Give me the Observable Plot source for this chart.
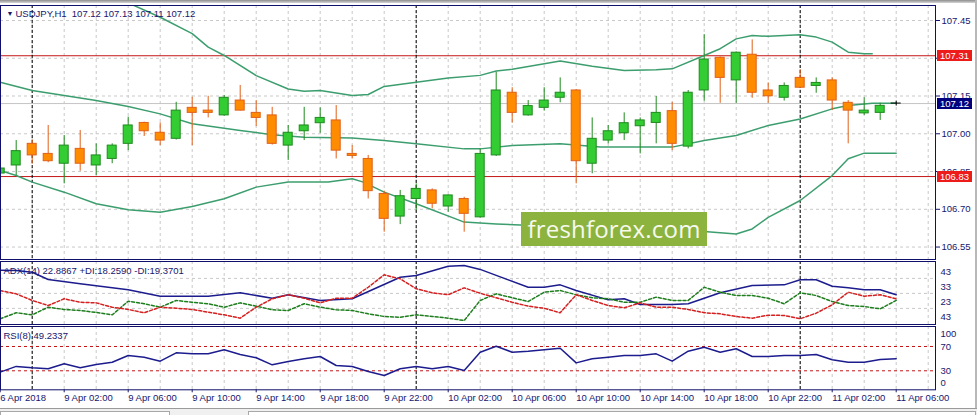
<!DOCTYPE html>
<html>
<head>
<meta charset="utf-8">
<script src="https://cdn.jsdelivr.net/npm/d3@7"></script>
<script src="https://cdn.jsdelivr.net/npm/@observablehq/plot@0.6"></script>
<style>
html, body { margin: 0; padding: 0; background: #fff; }
#wrap { position: relative; width: 977px; height: 415px; overflow: hidden; background: #fff;
  font-family: "Liberation Sans", Arial, sans-serif; }
#wrap svg { position: absolute; left: 0; }
.tag { position: absolute; left: 937px; width: 35px; height: 11px; line-height: 11px;
  font-size: 9.5px; color: #fff; text-align: center; }
</style>
</head>
<body>
<div id="wrap"></div>
<script>
// hour index: 0 = 9 Apr 00:00, one candle per hour
const hours = d3.range(-2, 55);
const open  = [106.842,106.874,106.960,106.920,106.881,106.940,106.874,106.900,106.960,107.043,107.004,106.980,107.103,107.092,107.073,107.132,107.083,107.073,106.953,107.010,107.042,107.053,106.920,106.900,106.761,106.671,106.741,106.775,106.711,106.741,106.668,106.914,107.163,107.073,107.103,107.143,107.172,106.881,106.973,107.002,107.030,107.043,107.090,106.949,107.172,107.302,107.212,107.314,107.172,107.143,107.222,107.190,107.212,107.123,107.081,107.083,107.120];
const high  = [106.870,106.973,106.975,107.033,106.993,107.013,106.960,106.960,107.066,107.046,107.043,107.125,107.145,107.149,107.152,107.192,107.132,107.105,107.033,107.105,107.103,107.112,106.953,106.914,106.772,106.775,106.801,106.781,106.757,106.748,106.940,107.245,107.183,107.132,107.183,107.222,107.175,107.063,107.033,107.083,107.063,107.148,107.125,107.172,107.394,107.305,107.325,107.373,107.202,107.202,107.255,107.222,107.222,107.132,107.143,107.121,107.130];
const low   = [106.830,106.834,106.880,106.885,106.801,106.851,106.834,106.881,106.933,106.989,106.953,106.975,106.953,107.063,107.070,107.090,107.029,106.955,106.894,106.973,107.002,106.900,106.900,106.741,106.609,106.639,106.695,106.702,106.688,106.609,106.665,106.910,107.042,107.070,107.090,107.123,106.801,106.841,106.960,106.973,106.920,106.960,106.933,106.940,107.129,107.121,107.121,107.141,107.121,107.130,107.180,107.161,107.092,106.960,107.073,107.053,107.110];
const close = [106.862,106.931,106.914,106.891,106.953,106.881,106.914,106.953,107.033,107.010,106.973,107.092,107.083,107.083,107.143,107.092,107.063,106.960,107.004,107.033,107.063,106.933,106.912,106.772,106.662,106.752,106.781,106.722,106.755,106.682,106.920,107.172,107.083,107.110,107.132,107.163,106.891,106.980,107.010,107.042,107.053,107.083,106.960,107.163,107.295,107.222,107.322,107.163,107.149,107.190,107.183,107.202,107.132,107.092,107.092,107.111,107.120];

// Bollinger bands
const upperHours = [4,6,8,10,11,12,14,16,17,18,20,21,22,24,26,28,29,30,33,35,37,39,40,42,43,44,45,46,48,49,50,51,52,52.5];
const upperBand  = [107.57,107.52,107.463,107.398,107.344,107.311,107.231,107.178,107.169,107.172,107.152,107.156,107.188,107.205,107.222,107.232,107.249,107.256,107.289,107.268,107.251,107.254,107.258,107.311,107.338,107.377,107.390,107.387,107.393,107.384,107.364,107.324,107.318,107.318];
const midHours = [-2,0,2,4,6,8,10,13,15,17,20,22,24,27,28,30,33,35.5,40,42,44,46,48,50,51,52.5,54];
const midBand  = [107.205,107.172,107.152,107.132,107.108,107.079,107.040,107.013,106.996,106.986,106.983,106.973,106.960,106.940,106.940,106.953,106.960,106.947,106.947,106.973,106.993,107.033,107.059,107.099,107.112,107.121,107.121];
const lowHours = [-2,-1,0,2,4,6,8,10,12,14,16,18.5,20,20.7,22,24,27,29,30.5,34,38,42,44,45,46,48,50,51,52,54];
const lowBand  = [106.854,106.834,106.808,106.768,106.722,106.698,106.688,106.711,106.742,106.788,106.808,106.808,106.821,106.808,106.768,106.722,106.649,106.642,106.638,106.632,106.628,106.612,106.602,106.622,106.668,106.735,106.834,106.901,106.923,106.923];

const priceTicks = [107.45, 107.30, 107.15, 107.00, 106.85, 106.70, 106.55];
const priceLevels = [107.31, 106.83];
const currentPrice = 107.12;

// ADX(14)
const adxHours = [-2,-1,0,1,3,6,8,11,13,15,16,18,20,23,24,26,27,28,29,31,32,33,34,36,37,38,40,41,43,45,47,48,49,50,51,52,53,54];
const adxLine  = [38.5,38.2,37.1,32.3,29.4,25.4,21.1,21.1,23.4,19.8,22.1,18.3,19.4,33.8,34.9,41.1,41.6,39.0,35.0,27.1,27.1,28.7,24.9,18.7,19.4,15.6,15.6,16.1,23.4,28.3,28.7,32.1,32.1,27.8,26.7,25.4,25.4,22.1];
const plusDI  = [6.1,10.1,8.7,13.8,12.3,11.6,10.3,8.7,17.8,16.1,13.8,18.3,17.1,16.1,13.8,16.7,14.5,12.1,11.6,16.1,13.8,12.1,11.6,9.4,7.6,7.1,8.7,7.6,6.5,4.9,18.3,22.7,20.1,17.6,23.8,24.9,22.1,20.1,19.4,17.1,17.1,20.5,18.3,18.3,27.1,23.8,21.6,21.6,19.8,16.1,23.4,21.6,17.6,14.9,14.3,12.7,18.3];
const minusDI = [24.9,22.7,18.3,14.9,19.4,17.1,16.7,13.8,12.3,10.1,13.8,13.1,12.3,10.5,8.7,6.5,13.8,19.4,22.1,19.8,16.7,19.8,19.8,27.1,35.4,32.7,26.1,23.4,22.1,26.7,23.1,20.1,17.1,14.5,13.1,10.1,22.1,18.3,14.9,13.4,16.7,13.8,13.8,12.3,10.1,9.4,7.6,6.5,8.5,8.3,6.1,9.8,15.4,23.8,21.1,22.1,19.4];
const adxTicks = [43, 33, 23, 13];
const adxTickLabels = ["43", "33", "23", "43"];

// RSI(8)
const rsi = [27.8,37.2,35.0,33.4,41.5,35.0,40.5,44.1,55.1,52.4,45.8,59.6,57.9,57.9,64.5,56.8,51.4,39.8,45.3,49.7,53.5,38.7,37.0,28.8,22.2,33.3,37.0,33.3,37.0,30.5,60.6,70.5,60.6,62.2,64.5,67.2,43.0,49.7,52.4,55.1,55.1,57.9,45.8,62.2,68.8,60.6,66.2,53.5,53.5,55.1,55.1,56.8,48.1,44.1,44.1,48.6,49.7];
const rsiLevels = [70, 30];

const daySeps = [0, 24, 48];
const gridHours = d3.range(-2, 57, 2);
const labelHours = [-2,2,6,10,14,18,22,26,30,34,38,42,46,50,54];
const timeLabels = ["6 Apr 2018","9 Apr 02:00","9 Apr 06:00","9 Apr 10:00","9 Apr 14:00","9 Apr 18:00","9 Apr 22:00",
  "10 Apr 02:00","10 Apr 06:00","10 Apr 10:00","10 Apr 14:00","10 Apr 18:00","10 Apr 22:00","11 Apr 02:00","11 Apr 06:00"];

const header = "USDJPY,H1  107.12 107.13 107.11 107.12";
const adxTitle = "ADX(14) 22.8867 +DI:18.2590 -DI:19.3701";
const rsiTitle = "RSI(8) 49.2337";

// ---- build
const NAVY = "#16166e", FRAME = "#10106a", GRID = "#c9c9c9";
const FONT = "'Liberation Sans', Arial, sans-serif";
const xDomain = [-31.7 / 16, (935 - 31.7) / 16];
const pts = (xs, ys) => xs.map((x, i) => ({x, y: ys[i]}));
const bars = hours.map((h, i) => ({h, o: open[i], hi: high[i], lo: low[i], c: close[i]}));
const body = d => d.c > d.o ? "#33cc33" : "#ff8c00";
const edge = d => d.c > d.o ? "#1f8a1f" : d.c < d.o ? "#e0601a" : "#000";
const labelMap = new Map(labelHours.map((h, i) => [h, timeLabels[i]]));
const style = {fontFamily: FONT, fontSize: "9.5px", color: NAVY, background: "transparent", overflow: "visible"};
const common = {width: 977, marginLeft: 0, marginRight: 42, style, x: {domain: xDomain, axis: null}};
const vgrid = () => Plot.ruleX(gridHours, {stroke: GRID, strokeDasharray: "3,3"});
const seps = () => Plot.ruleX(daySeps, {stroke: "#000", strokeDasharray: "3,2"});

const main = Plot.plot({
  ...common, height: 260, marginTop: 5, marginBottom: 1,
  y: {domain: [106.5005, 107.5096], axis: null},
  marks: [
    Plot.ruleY(priceTicks, {stroke: GRID, strokeDasharray: "3,3"}),
    vgrid(),
    Plot.ruleY([currentPrice], {stroke: "#c4c4c4"}),
    Plot.ruleY(priceLevels, {stroke: "#c41818"}),
    seps(),
    Plot.line(pts(upperHours, upperBand), {x: "x", y: "y", stroke: "#3c9e6e", clip: true}),
    Plot.line(pts(midHours, midBand), {x: "x", y: "y", stroke: "#3c9e6e", clip: true}),
    Plot.line(pts(lowHours, lowBand), {x: "x", y: "y", stroke: "#3c9e6e", clip: true}),
    Plot.ruleX(bars, {x: "h", y1: "lo", y2: "hi", stroke: edge}),
    Plot.rect(bars.filter(d => d.c !== d.o), {x1: "h", x2: "h", y1: "o", y2: "c",
      insetLeft: -4.5, insetRight: -4.5, fill: body, stroke: edge}),
    Plot.rect(bars.filter(d => d.c === d.o), {x1: "h", x2: "h", y1: "o", y2: "c",
      insetLeft: -5, insetRight: -5, insetTop: -0.5, insetBottom: -0.5, fill: "#000"}),
    Plot.axisY(priceTicks, {anchor: "right", tickSize: 4, tickPadding: 2, tickFormat: d => d.toFixed(2)}),
    Plot.frame({stroke: FRAME}),
    Plot.text(["▼"], {frameAnchor: "top-left", dx: 6, dy: 8, lineAnchor: "middle", fontSize: 7, fill: NAVY}),
    Plot.text([header], {frameAnchor: "top-left", dx: 15, dy: 8, lineAnchor: "middle", textAnchor: "start", fill: NAVY})
  ]
});

const adx = Plot.plot({
  ...common, height: 67, marginTop: 2, marginBottom: 2,
  y: {domain: [2.267, 44.267], axis: null},
  marks: [
    Plot.ruleY(adxTicks.slice(1), {stroke: GRID, strokeDasharray: "3,3"}),
    vgrid(),
    seps(),
    Plot.line(pts(adxHours, adxLine), {x: "x", y: "y", stroke: "#1c1c8e"}),
    Plot.line(pts(hours, plusDI), {x: "x", y: "y", stroke: "#1e7e1e", strokeDasharray: "3,2"}),
    Plot.line(pts(hours, minusDI), {x: "x", y: "y", stroke: "#d42020", strokeDasharray: "3,2"}),
    Plot.frame({stroke: FRAME}),
    Plot.text(adxTicks, {y: d => d, text: (d, i) => adxTickLabels[i], frameAnchor: "right",
      textAnchor: "start", dx: 5, dy: 8.5, fill: NAVY}),
    Plot.text([adxTitle], {frameAnchor: "top-left", dx: 3, dy: 9.5, lineAnchor: "middle", textAnchor: "start", fill: NAVY})
  ]
});

const rsiPlot = Plot.plot({
  ...common, height: 91, marginTop: 2, marginBottom: 25.7,
  y: {domain: [-1.3, 102.9], axis: null},
  marks: [
    vgrid(),
    seps(),
    Plot.ruleY(rsiLevels, {stroke: "#c41414", strokeDasharray: "3,3"}),
    Plot.line(pts(hours, rsi), {x: "x", y: "y", stroke: "#1c1c8e"}),
    Plot.frame({stroke: FRAME}),
    Plot.text([100], {y: d => d, text: d => String(d), frameAnchor: "right", textAnchor: "start", dx: 5, dy: 6, fill: NAVY}),
    Plot.text(rsiLevels, {y: d => d, text: d => String(d), frameAnchor: "right", textAnchor: "start", dx: 5, fill: NAVY}),
    Plot.text([0], {y: d => d, text: d => String(d), frameAnchor: "right", textAnchor: "start", dx: 5, dy: -6, fill: NAVY}),
    Plot.axisX(labelHours, {anchor: "bottom", tickSize: 3, tickPadding: 1, textAnchor: "start",
      tickFormat: d => labelMap.get(d)}),
    Plot.text([rsiTitle], {frameAnchor: "top-left", dx: 3, dy: 9.5, lineAnchor: "middle", textAnchor: "start", fill: NAVY})
  ]
});

const wrap = document.getElementById("wrap");
main.style.top = "0px";
adx.style.top = "259px";
rsiPlot.style.top = "324px";
wrap.append(main, adx, rsiPlot);

// window chrome
const div = (css, html) => { const e = document.createElement("div"); e.style.cssText = "position:absolute;" + css; if (html) e.innerHTML = html; wrap.append(e); return e; };
div("left:0;top:0;width:977px;height:3px;background:linear-gradient(#8c8c8c,#d6d6d6);");
div("left:975px;top:0;width:2px;height:415px;background:#b8b8b8;");
div("left:0;top:408px;width:977px;height:7px;background:#f0f0f0;border-top:1px solid #9a9a9a;");
div("left:0;top:411px;width:168px;height:6px;background:#fff;border:1px solid #a8a8a8;");
div("left:248px;top:411px;width:726px;height:6px;background:#fff;border:1px solid #a8a8a8;");

// price tags on the right scale, placed through the main y scale
const yScale = main.scale("y");
const tag = (v, bg) => {
  const e = div(`top:${yScale.apply(v) - 5.5}px;background:${bg};`, v.toFixed(2));
  e.className = "tag";
};
priceLevels.forEach(v => tag(v, "#ee1b1b"));
tag(currentPrice, "#00007e");

// watermark
div("left:521px;top:212px;width:186px;height:34px;background:#8db33f;color:#f6f9ee;" +
  "font:24px 'Open Sans',sans-serif;line-height:33px;text-align:center;letter-spacing:0.2px;", "freshforex.com");
</script>
</body>
</html>
